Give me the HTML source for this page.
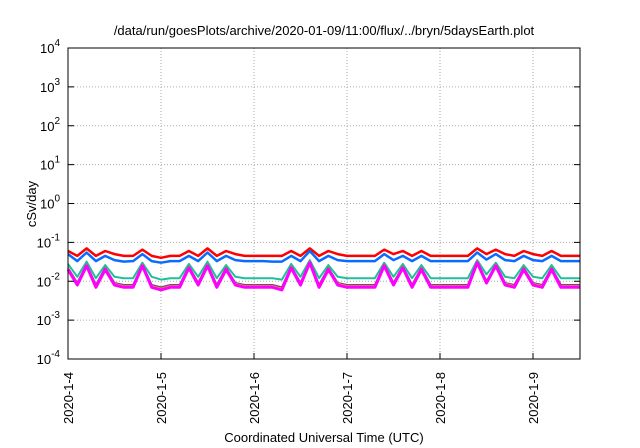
<!DOCTYPE html>
<html><head><meta charset="utf-8"><style>
html,body{margin:0;padding:0;background:#fff;width:640px;height:448px;overflow:hidden}
text{font-family:"Liberation Sans",sans-serif;fill:#000}
</style></head><body>
<svg id="chart" width="640" height="448" viewBox="0 0 640 448">
<text x="324" y="35" font-size="13" text-anchor="middle">/data/run/goesPlots/archive/2020-01-09/11:00/flux/../bryn/5daysEarth.plot</text>
<g id="grid"></g>
<g id="series"></g>
<rect x="68" y="48" width="512" height="311" fill="none" stroke="#000" stroke-width="1"/>
<g id="axes"></g>
<text transform="translate(36,204) rotate(-90)" font-size="13" text-anchor="middle">cSv/day</text>
<text x="324" y="442" font-size="13" text-anchor="middle">Coordinated Universal Time (UTC)</text>
</svg>
<script>
const yExps=[-4,-3,-2,-1,0,1,2,3,4];
const xTickLabels=["2020-1-4","2020-1-5","2020-1-6","2020-1-7","2020-1-8","2020-1-9"];
const red=[0.06,0.045,0.07,0.045,0.06,0.05,0.045,0.045,0.065,0.045,0.04,0.045,0.045,0.06,0.045,0.07,0.045,0.06,0.05,0.045,0.045,0.045,0.045,0.045,0.06,0.045,0.07,0.045,0.06,0.05,0.045,0.045,0.045,0.045,0.065,0.05,0.06,0.045,0.06,0.045,0.045,0.045,0.045,0.045,0.07,0.05,0.065,0.05,0.045,0.06,0.05,0.045,0.06,0.045,0.045,0.045];
const blue=[0.05,0.033,0.055,0.033,0.045,0.035,0.032,0.033,0.05,0.033,0.03,0.033,0.033,0.045,0.033,0.055,0.033,0.045,0.035,0.033,0.033,0.033,0.032,0.032,0.045,0.033,0.06,0.033,0.045,0.035,0.033,0.033,0.033,0.033,0.05,0.035,0.045,0.033,0.045,0.033,0.033,0.033,0.033,0.033,0.055,0.036,0.05,0.035,0.033,0.045,0.035,0.033,0.045,0.033,0.033,0.033];
const teal=[0.028,0.013,0.032,0.012,0.026,0.013,0.012,0.012,0.03,0.013,0.011,0.012,0.012,0.028,0.013,0.032,0.012,0.026,0.013,0.012,0.012,0.012,0.012,0.011,0.028,0.013,0.035,0.012,0.026,0.013,0.012,0.012,0.012,0.012,0.03,0.013,0.028,0.012,0.026,0.012,0.012,0.012,0.012,0.012,0.035,0.015,0.03,0.013,0.012,0.026,0.013,0.012,0.026,0.012,0.012,0.012];
const purple=[0.022,0.009,0.027,0.008,0.022,0.009,0.008,0.008,0.027,0.008,0.007,0.008,0.008,0.024,0.009,0.027,0.008,0.022,0.009,0.008,0.008,0.008,0.008,0.007,0.024,0.009,0.032,0.008,0.022,0.009,0.008,0.008,0.008,0.008,0.027,0.009,0.024,0.008,0.022,0.008,0.008,0.008,0.008,0.008,0.032,0.01,0.027,0.009,0.008,0.022,0.009,0.008,0.022,0.008,0.008,0.008];
const magenta=[0.02,0.008,0.025,0.007,0.02,0.008,0.007,0.007,0.025,0.007,0.006,0.007,0.007,0.022,0.008,0.025,0.007,0.02,0.008,0.007,0.007,0.007,0.007,0.006,0.022,0.008,0.03,0.007,0.02,0.008,0.007,0.007,0.007,0.007,0.025,0.008,0.022,0.007,0.02,0.007,0.007,0.007,0.007,0.007,0.03,0.009,0.025,0.008,0.007,0.02,0.008,0.007,0.02,0.007,0.007,0.007];
const dips=[0.006,0.005,0.007,0.006,0.005,0.006,0.004,0.006,0.005,0.006];
const NS="http://www.w3.org/2000/svg";
const L=68,R=580,T=48,B=359,dayPx=93;
function ys(v){return B-(Math.log10(v)+4)/8*(B-T);}
function xs(d){return L+d*dayPx;}
function mk(tag,attrs,parent){const e=document.createElementNS(NS,tag);for(const k in attrs)e.setAttribute(k,attrs[k]);parent.appendChild(e);return e;}
const grid=document.getElementById('grid'),axes=document.getElementById('axes'),ser=document.getElementById('series');
yExps.forEach(e=>{const y=ys(Math.pow(10,e));
 if(e>-4&&e<4){const g=mk('line',{x1:L,x2:R,y1:y,y2:y,stroke:'#aaa','stroke-dasharray':'1,2','stroke-width':1},grid);
 }
 const t=mk('line',{x1:L,x2:L+6,y1:y,y2:y,stroke:'#000'},axes);
 const t2=mk('line',{x1:R,x2:R-6,y1:y,y2:y,stroke:'#000'},axes);
 const tx=mk('text',{x:L-8,y:y+5,'font-size':13,'text-anchor':'end'},axes);
 
 tx.textContent='10';const s=mk('tspan',{dy:-7,'font-size':10},tx);s.textContent=String(e);
});
xTickLabels.forEach((lab,i)=>{const x=xs(i);
 if(i>0){const g=mk('line',{x1:x,x2:x,y1:T,y2:B,stroke:'#aaa','stroke-dasharray':'1,2'},grid);
 }
 const t=mk('line',{x1:x,x2:x,y1:B,y2:B-6,stroke:'#000'},axes);
 const tx=mk('text',{transform:`translate(${x+5},${B+65}) rotate(-90)`,'font-size':13},axes);
 tx.textContent=lab;
});
function line(arr,color,w,name){const n=arr.length;
 const pts=arr.map((v,i)=>xs(i*5.5/(n-1)).toFixed(1)+','+ys(v).toFixed(1)).join(' ');
 const p=mk('polyline',{points:pts,fill:'none',stroke:color,'stroke-width':w,'stroke-linejoin':'round'},ser);
 }
line(red,'#ff0000',2.5,'series-red');
line(blue,'#0a6cff',2.5,'series-blue');
line(teal,'#1fbf9a',2,'series-teal');
line(purple,'#8a3b8f',2,'series-purple');
line(magenta.map(v=>v*1.08),'#e8c000',1.5,'series-yellow');
line(magenta,'#ff00ff',3,'series-magenta');
</script>
</body></html>
